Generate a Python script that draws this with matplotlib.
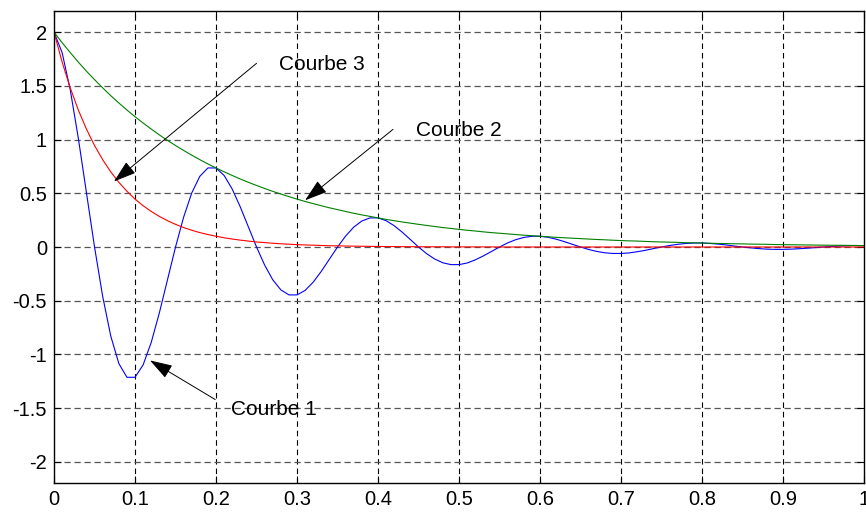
import matplotlib
matplotlib.use('Agg')
import matplotlib.pyplot as plt
import numpy as np

plt.rcParams['font.family'] = ['Liberation Sans', 'DejaVu Sans']

# temps t = 0 : 0.01 : 1
t = np.arange(101) / 100.0

# Courbe 1 (bleu) - oscillation amortie
courbe1 = [
    2.000, 1.809, 1.464, 1.012, 0.506, 0.000, -0.458, -0.828, -1.085, -1.213,
    -1.213, -1.097, -0.888, -0.614, -0.307, 0.000, 0.278, 0.503, 0.658, 0.736,
    0.736, 0.666, 0.539, 0.372, 0.186, 0.000, -0.168, -0.305, -0.399, -0.446,
    -0.446, -0.404, -0.327, -0.226, -0.113, 0.000, 0.102, 0.185, 0.242, 0.271,
    0.271, 0.245, 0.198, 0.137, 0.069, 0.000, -0.062, -0.112, -0.147, -0.164,
    -0.164, -0.149, -0.120, -0.083, -0.042, 0.000, 0.038, 0.068, 0.089, 0.100,
    0.100, 0.090, 0.073, 0.050, 0.025, 0.000, -0.023, -0.041, -0.054, -0.060,
    -0.060, -0.055, -0.044, -0.031, -0.015, 0.000, 0.014, 0.025, 0.033, 0.037,
    0.037, 0.033, 0.027, 0.019, 0.009, 0.000, -0.008, -0.015, -0.020, -0.022,
    -0.022, -0.020, -0.016, -0.011, -0.006, 0.000, 0.005, 0.009, 0.012, 0.014,
    0.013,
]

# Courbe 2 (vert) - enveloppe
courbe2 = [
    2.000, 1.902, 1.810, 1.721, 1.637, 1.558, 1.482, 1.409, 1.341, 1.275,
    1.213, 1.154, 1.098, 1.044, 0.993, 0.945, 0.899, 0.855, 0.813, 0.773,
    0.736, 0.700, 0.666, 0.633, 0.602, 0.573, 0.545, 0.518, 0.493, 0.469,
    0.446, 0.424, 0.404, 0.384, 0.365, 0.348, 0.331, 0.314, 0.299, 0.285,
    0.271, 0.257, 0.245, 0.233, 0.222, 0.211, 0.201, 0.191, 0.181, 0.173,
    0.164, 0.156, 0.149, 0.141, 0.134, 0.128, 0.122, 0.116, 0.110, 0.105,
    0.100, 0.095, 0.090, 0.086, 0.082, 0.078, 0.074, 0.070, 0.067, 0.063,
    0.060, 0.057, 0.055, 0.052, 0.049, 0.047, 0.045, 0.043, 0.040, 0.039,
    0.037, 0.035, 0.033, 0.032, 0.030, 0.029, 0.027, 0.026, 0.025, 0.023,
    0.022, 0.021, 0.020, 0.019, 0.018, 0.017, 0.016, 0.016, 0.015, 0.014,
    0.013,
]

# Courbe 3 (rouge) - decroissance rapide
courbe3 = [
    2.000, 1.721, 1.482, 1.275, 1.098, 0.945, 0.813, 0.700, 0.602, 0.519,
    0.446, 0.384, 0.331, 0.285, 0.245, 0.211, 0.181, 0.156, 0.134, 0.116,
    0.100, 0.086, 0.074, 0.064, 0.055, 0.047, 0.041, 0.035, 0.030, 0.026,
    0.022, 0.019, 0.017, 0.014, 0.012, 0.011, 0.009, 0.008, 0.007, 0.006,
    0.005, 0.004, 0.004, 0.003, 0.003, 0.002, 0.002, 0.002, 0.002, 0.001,
    0.001, 0.001, 0.001, 0.001, 0.001, 0.000, 0.000, 0.000, 0.000, 0.000,
    0.000, 0.000, 0.000, 0.000, 0.000, 0.000, 0.000, 0.000, 0.000, 0.000,
    0.000, 0.000, 0.000, 0.000, 0.000, 0.000, 0.000, 0.000, 0.000, 0.000,
    0.000, 0.000, 0.000, 0.000, 0.000, 0.000, 0.000, 0.000, 0.000, 0.000,
    0.000, 0.000, 0.000, 0.000, 0.000, 0.000, 0.000, 0.000, 0.000, 0.000,
    0.000,
]

xticks = [0, 0.1, 0.2, 0.3, 0.4, 0.5, 0.6, 0.7, 0.8, 0.9, 1]
xlabels = ['0', '0.1', '0.2', '0.3', '0.4', '0.5', '0.6', '0.7', '0.8', '0.9', '1']
yticks = [-2, -1.5, -1, -0.5, 0, 0.5, 1, 1.5, 2]
ylabels = ['-2', '-1.5', '-1', '-0.5', '0', '0.5', '1', '1.5', '2']

# annotations : texte, position du texte, point vise, debut de la fleche
notes = [
    ('Courbe 1', (0.219, -1.51), (0.1185, -1.056), (0.199, -1.42)),
    ('Courbe 2', (0.447, 1.08), (0.31, 0.435), (0.4185, 1.095)),
    ('Courbe 3', (0.278, 1.70), (0.074, 0.61), (0.25, 1.71)),
]

fig = plt.figure(figsize=(8.66, 5.14), dpi=100)
ax = fig.add_axes([0.0624, 0.0597, 0.9353, 0.9195])

ax.plot(t, courbe1, color='blue', lw=0.8)
ax.plot(t, courbe2, color='#008000', lw=0.8)
ax.plot(t, courbe3, color='red', lw=0.8)

ax.set_xlim(0, 1)
ax.set_ylim(-2.2, 2.2)
ax.set_xticks(xticks)
ax.set_xticklabels(xlabels)
ax.set_yticks(yticks)
ax.set_yticklabels(ylabels)
ax.tick_params(direction='in', length=5, width=0.8, labelsize=14.5,
               top=True, right=True, pad=5)

for x in xticks[1:-1]:
    ax.axvline(x, color='black', lw=0.8, ls=(0, (5, 3.5)), zorder=0)
for y in yticks:
    ax.axhline(y, color='#555555', lw=0.9, ls=(0, (5, 3)), zorder=0)

for sp in ax.spines.values():
    sp.set_linewidth(1.0)

for txt, pos, tip, tail in notes:
    ax.annotate('', xy=tip, xytext=tail,
                arrowprops=dict(arrowstyle='-|>,head_length=1.4,head_width=0.45',
                                color='black', lw=0.7, shrinkA=0, shrinkB=0))
    ax.text(pos[0], pos[1], txt, fontsize=15, va='center', ha='left')

fig.savefig('out.png', dpi=100)
